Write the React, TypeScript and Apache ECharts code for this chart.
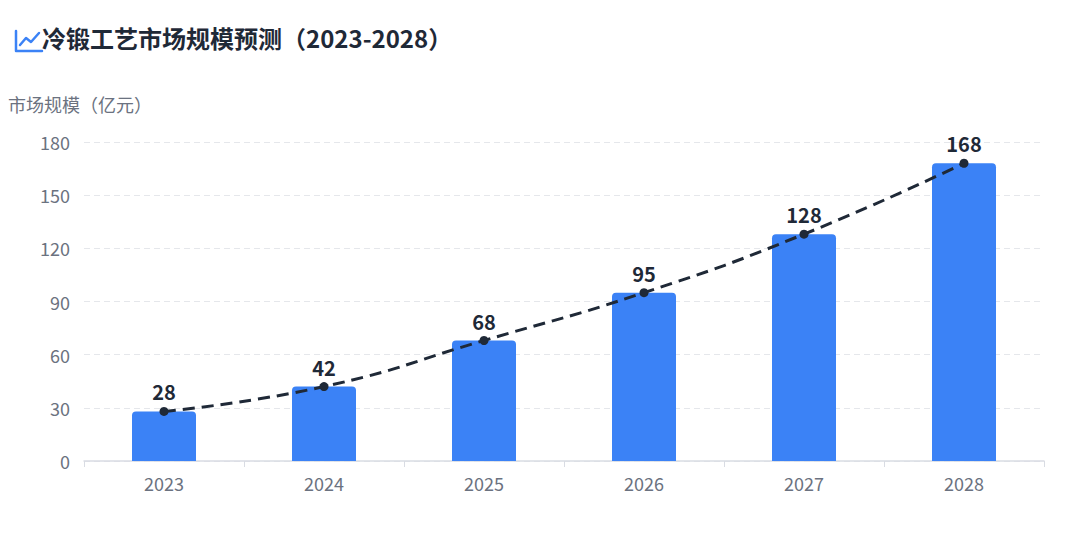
import React, { useEffect, useRef } from "react";
import * as echarts from "echarts";

const years = ["2023", "2024", "2025", "2026", "2027", "2028"];
const marketSize = [28, 42, 68, 95, 128, 168];
const yTicks = { min: 0, max: 180, interval: 30 };
const titleText = "冷锻工艺市场规模预测（2023-2028）";
const yAxisName = "市场规模（亿元）";

export default function App() {
  const ref = useRef<HTMLDivElement>(null);
  useEffect(() => {
    document.body.style.margin = "0";
    const chart = echarts.init(ref.current!, null, { renderer: "svg" });
    const font = "'Noto Sans CJK SC', 'Noto Sans', sans-serif";
    chart.setOption({
      animation: false,
      textStyle: { fontFamily: font },
      title: {
        text: titleText,
        left: 37,
        top: 20,
        textStyle: { fontSize: 24, fontWeight: "bold", color: "#1f2937", fontFamily: font },
      },
      graphic: [
        {
          type: "polyline",
          shape: { points: [[16, 31], [16, 51], [42, 51]] },
          style: { stroke: "#3b82f6", lineWidth: 2.5, fill: "none", lineCap: "round", lineJoin: "round" },
        },
        {
          type: "polyline",
          shape: { points: [[20, 45], [26, 38], [31, 42], [39, 33]] },
          style: { stroke: "#3b82f6", lineWidth: 2.5, fill: "none", lineCap: "round", lineJoin: "round" },
        },
        {
          type: "text",
          left: 8,
          top: 95,
          style: { text: yAxisName, fontSize: 18, fill: "#6b7280", fontFamily: font },
        },
      ],
      grid: { left: 84, right: 36, top: 142, bottom: 80 },
      xAxis: {
        type: "category",
        data: years,
        axisLine: { lineStyle: { color: "#d9dce3", width: 1.5 } },
        axisTick: { show: true, length: 6, lineStyle: { color: "#d9dce3" } },
        axisLabel: { color: "#6b7280", fontSize: 18, margin: 13 },
      },
      yAxis: {
        type: "value",
        min: yTicks.min,
        max: yTicks.max,
        interval: yTicks.interval,
        axisLine: { show: false },
        axisTick: { show: false },
        axisLabel: { color: "#6b7280", fontSize: 18, margin: 14 },
        splitLine: { lineStyle: { color: "#e5e7eb", type: [6, 4] } },
      },
      series: [
        {
          type: "bar",
          data: marketSize,
          barWidth: "40%",
          itemStyle: { color: "#3b82f6", borderRadius: [4, 4, 0, 0] },
        },
        {
          type: "line",
          data: marketSize,
          smooth: true,
          symbol: "circle",
          symbolSize: 9,
          lineStyle: { color: "#1f2937", width: 3, type: [12, 7] },
          itemStyle: { color: "#1f2937" },
          label: {
            show: true,
            position: "top",
            distance: 5,
            color: "#1f2937",
            fontSize: 20,
            fontWeight: "bold",
          },
          z: 3,
        },
      ],
    });
    return () => chart.dispose();
  }, []);
  return <div ref={ref} style={{ width: 1080, height: 541 }} />;
}
